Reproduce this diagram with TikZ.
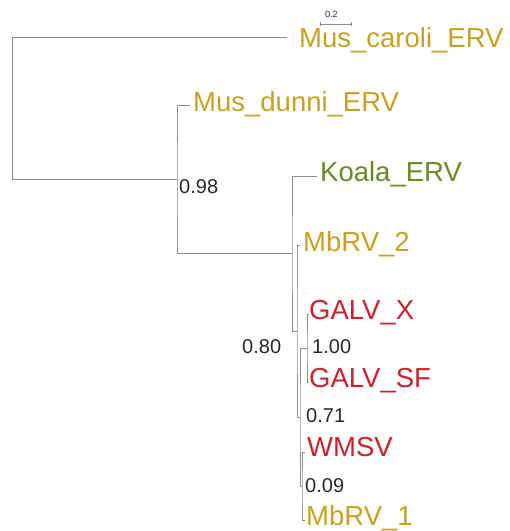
\documentclass[tikz,border=0pt]{standalone}
\usepackage{fontspec}
\setmainfont{Liberation Sans}
\definecolor{goldc}{RGB}{201,160,35}
\definecolor{greenc}{RGB}{106,138,38}
\definecolor{redc}{RGB}{200,35,45}
\definecolor{linec}{RGB}{140,140,140}
\definecolor{supc}{RGB}{40,40,40}
\begin{document}
\begin{tikzpicture}[x=1pt,y=-1pt,
  branch/.style={draw=linec, line width=0.9pt},
  leaflab/.style={anchor=base west, inner sep=0pt, font=\fontsize{27.5}{30}\selectfont},
  supp/.style={anchor=base west, inner sep=0pt, text=supc, font=\fontsize{20}{22}\selectfont},
  scalelab/.style={anchor=base west, inner sep=0pt, text=supc, font=\fontsize{9}{10}\selectfont}]
\useasboundingbox (0,0) rectangle (510,531);
% internal nodes
\coordinate (A) at (12,179);
\coordinate (B) at (177,179);
\coordinate (C) at (292,253.5);
\coordinate (D) at (297,331);
\coordinate (E) at (300,417);
\coordinate (G) at (307,348);
\coordinate (W) at (302,486);
% leaf ends
\coordinate (caroliEnd) at (287,37);
\coordinate (dunniEnd) at (190,105);
\coordinate (koalaEnd) at (317,176);
\coordinate (mbtwoEnd) at (300,245);
\coordinate (gxEnd) at (309,314);
\coordinate (gsfEnd) at (309,382);
\coordinate (wmsvEnd) at (305,452);
\coordinate (mboneEnd) at (305,520);
% branches
\draw[branch] (caroliEnd) -| (A) -- (B);
\draw[branch] (dunniEnd) -| (B) |- (C);
\draw[branch] (koalaEnd) -| (C) |- (D);
\draw[branch] (mbtwoEnd) -| (D) |- (E);
\draw[branch] (G) -| (E) |- (W);
\draw[branch] (gxEnd) -| (G) |- (gsfEnd);
\draw[branch] (wmsvEnd) -| (W) |- (mboneEnd);
% leaf labels
\node[leaflab, text=goldc] (caroli) at (299,47) {Mus\_caroli\_ERV};
\node[leaflab, text=goldc] (dunni) at (193,111) {Mus\_dunni\_ERV};
\node[leaflab, text=greenc] (koala) at (320,181) {Koala\_ERV};
\node[leaflab, text=goldc] (mbtwo) at (303,251) {MbRV\_2};
\node[leaflab, text=redc] (gx) at (309,319) {GALV\_X};
\node[leaflab, text=redc] (gsf) at (309,387) {GALV\_SF};
\node[leaflab, text=redc] (wmsv) at (307,456) {WMSV};
\node[leaflab, text=goldc] (mbone) at (306,525) {MbRV\_1};
% support values
\node[supp] (sB) at (179,193) {0.98};
\node[supp] (sD) at (242,353) {0.80};
\node[supp] (sG) at (312,353) {1.00};
\node[supp] (sE) at (306,422) {0.71};
\node[supp] (sW) at (305,492) {0.09};
% scale bar
\coordinate (sbL) at (320,24);
\coordinate (sbR) at (351,24);
\draw[draw=linec, line width=0.6pt] (sbL) -- (sbR);
\draw[draw=linec, line width=0.6pt] ([yshift=-2pt]sbL) -- ([yshift=2pt]sbL);
\draw[draw=linec, line width=0.6pt] ([yshift=-2pt]sbR) -- ([yshift=2pt]sbR);
\node[scalelab] (sblab) at (325,17) {0.2};
\end{tikzpicture}
\end{document}
